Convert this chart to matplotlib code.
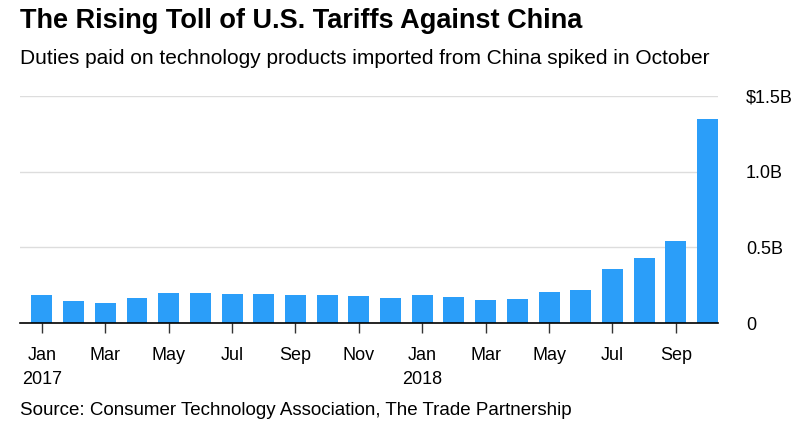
import matplotlib.pyplot as plt
import numpy as np

# monthly duties paid, $ billions, Jan 2017 - Oct 2018
months = ["Jan", "Feb", "Mar", "Apr", "May", "Jun", "Jul", "Aug", "Sep", "Oct", "Nov", "Dec",
          "Jan", "Feb", "Mar", "Apr", "May", "Jun", "Jul", "Aug", "Sep", "Oct"]
duties = [0.185, 0.148, 0.13, 0.165, 0.197, 0.197, 0.19, 0.19, 0.185, 0.185, 0.177, 0.165,
          0.188, 0.172, 0.15, 0.157, 0.205, 0.216, 0.355, 0.428, 0.545, 1.35]
tick_labels = ["Jan\n2017", "Mar", "May", "Jul", "Sep", "Nov",
               "Jan\n2018", "Mar", "May", "Jul", "Sep"]
y_ticks = [0, 0.5, 1.0, 1.5]
y_labels = ["0", "0.5B", "1.0B", "$1.5B"]

plt.rcParams['font.family'] = ['Liberation Sans', 'DejaVu Sans']

fig = plt.figure(figsize=(8.08, 4.40), dpi=100)
ax = fig.add_axes([20/808, 1 - 323/440, 698/808, (323 - 96)/440])

x = np.arange(len(duties))
ax.bar(x, duties, width=0.66, color="#2b9ef9", zorder=3)

ax.set_xlim(-0.69, 21.33)
ax.set_ylim(0, 1.5)

ax.set_yticks(y_ticks)
ax.set_yticklabels(y_labels)
ax.yaxis.tick_right()
ax.tick_params(axis="y", length=0, pad=20, labelsize=13, colors="#000000")
ax.grid(axis="y", color="#dddddd", linewidth=1, zorder=0)

ax.set_xticks(x[::2])
ax.set_xticklabels(tick_labels, linespacing=1.55, va="top")
ax.tick_params(axis="x", length=7, width=1, color="#333333", pad=10, labelsize=13)

for s in ["top", "right", "left"]:
    ax.spines[s].set_visible(False)
ax.spines["bottom"].set_color("black")
ax.spines["bottom"].set_linewidth(1.2)
ax.spines["bottom"].set_zorder(4)

fig.text(20/808, 1 - 21/440, "The Rising Toll of U.S. Tariffs Against China",
         fontsize=19.5, fontweight="bold", va="center")
fig.text(20/808, 1 - 58/440, "Duties paid on technology products imported from China spiked in October",
         fontsize=15, va="center")
fig.text(20/808, 1 - 410/440, "Source: Consumer Technology Association, The Trade Partnership",
         fontsize=13.5, va="center")

fig.savefig("out.png", dpi=100)
